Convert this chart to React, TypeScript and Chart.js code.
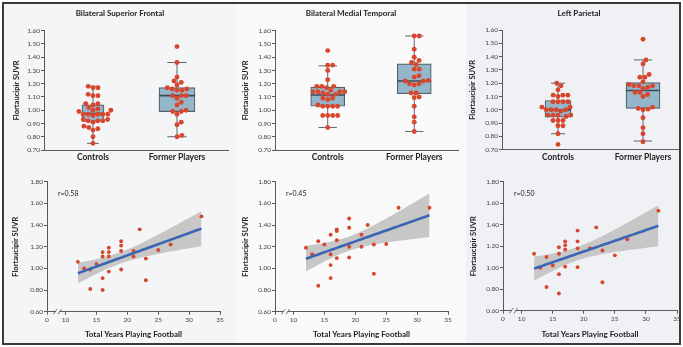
import React, { useEffect, useRef } from 'react';
import { Chart, registerables } from 'chart.js';

Chart.register(...registerables);

const FONT = 'Lato, "Open Sans", "DejaVu Sans", sans-serif';

// ---------------- DATA ----------------
const groupLabels = ['Controls', 'Former Players'];
const regionTitles = ['Bilateral Superior Frontal', 'Bilateral Medial Temporal', 'Left Parietal'];
const correlationLabels = ['r=0.58', 'r=0.45', 'r=0.50'];
const yAxisTitle = 'Flortaucipir SUVR';
const xAxisTitle = 'Total Years Playing Football';
const boxSuvrTicks = [0.7, 0.8, 0.9, 1.0, 1.1, 1.2, 1.3, 1.4, 1.5, 1.6];
const scatterSuvrTicks = [0.6, 0.8, 1.0, 1.2, 1.4, 1.6, 1.8];
const yearTicks = [0, 10, 15, 20, 25, 30, 35];

const yearsPlayed = [12, 13, 14, 14, 15, 16, 16, 16, 16, 17, 17, 17, 17, 19, 19, 19, 19, 21, 21, 22, 23, 23, 25, 27, 32];

const frontalControls = [1.18, 1.17, 1.17, 1.12, 1.11, 1.11, 1.05, 1.05, 1.04, 1.02, 1.01, 1.0, 1.0, 0.99, 0.97, 0.97, 0.97, 0.97, 0.97, 0.96, 0.93, 0.93, 0.92, 0.92, 0.92, 0.91, 0.88, 0.87, 0.86, 0.85, 0.8, 0.75];
const frontalPlayers = [1.06, 1.0, 0.99, 0.81, 1.04, 1.15, 1.11, 0.91, 0.8, 1.19, 1.15, 1.11, 0.97, 1.25, 1.21, 1.16, 0.99, 1.16, 1.11, 1.36, 1.09, 0.89, 1.17, 1.22, 1.48];
const temporalControls = [1.45, 1.34, 1.34, 1.3, 1.23, 1.18, 1.18, 1.18, 1.17, 1.15, 1.14, 1.14, 1.14, 1.14, 1.13, 1.12, 1.12, 1.09, 1.09, 1.08, 1.04, 1.03, 1.03, 1.03, 1.03, 0.96, 0.96, 0.96, 0.96, 0.87];
const temporalPlayers = [1.19, 1.13, 1.25, 0.84, 1.22, 1.31, 1.13, 1.03, 0.91, 1.36, 1.345, 1.26, 1.095, 1.46, 1.375, 1.2, 1.1, 1.31, 1.2, 1.4, 1.22, 0.95, 1.225, 1.56, 1.56];
const parietalControls = [1.2, 1.18, 1.15, 1.11, 1.11, 1.11, 1.1, 1.06, 1.06, 1.06, 1.06, 1.02, 1.02, 1.0, 1.0, 1.0, 1.0, 0.99, 0.96, 0.96, 0.96, 0.96, 0.95, 0.92, 0.92, 0.92, 0.88, 0.88, 0.82, 0.74];
const parietalPlayers = [1.13, 1.0, 1.1, 0.82, 1.02, 1.19, 1.13, 0.94, 0.76, 1.245, 1.21, 1.17, 1.01, 1.345, 1.245, 1.18, 1.005, 1.18, 1.18, 1.375, 1.16, 0.865, 1.115, 1.265, 1.53];

// box summaries: lower whisker, Q1, median, Q3, upper whisker
const frontalControlsBox = [0.75, 0.915, 0.975, 1.04, 1.18];
const frontalPlayersBox = [0.8, 0.99, 1.11, 1.17, 1.36];
const temporalControlsBox = [0.87, 1.03, 1.115, 1.175, 1.335];
const temporalPlayersBox = [0.84, 1.125, 1.22, 1.35, 1.56];
const parietalControlsBox = [0.82, 0.945, 1.0, 1.07, 1.2];
const parietalPlayersBox = [0.765, 1.01, 1.145, 1.205, 1.375];

const controlsByRegion = [frontalControls, temporalControls, parietalControls];
const playersByRegion = [frontalPlayers, temporalPlayers, parietalPlayers];
const controlsBoxByRegion = [frontalControlsBox, temporalControlsBox, parietalControlsBox];
const playersBoxByRegion = [frontalPlayersBox, temporalPlayersBox, parietalPlayersBox];

// ---------------- LAYOUT / STYLE ----------------
const COL_BG = ['#f4f5f7', '#f9f9fa', '#eff1f4'];
const AXIS = '#5a5a5a';
const TICK = '#444';
const TEXT = '#222';
const DOT = '#d8462d';
const BOX_FILL = '#94b6ca';
const BOX_LINE = '#55606a';
const BREAK_START = 7; // where the "0" tick sits on the broken year axis
const BREAK_MARK = 8.7;

const topGeo = [
  { x: 4, y: 4, w: 228, h: 166, left: 44, right: 228, top: 30.7, bottom: 150, yTitleX: 17, titleX: 120, titleY: 13, cats: [93, 177], boxW: [22, 36], bg: COL_BG[0] },
  { x: 236, y: 4, w: 226, h: 166, left: 275, right: 459, top: 30.7, bottom: 150, yTitleX: 246, titleX: 351, titleY: 13, cats: [328, 415], boxW: [34, 34], bg: COL_BG[1] },
  { x: 466, y: 4, w: 217, h: 166, left: 502, right: 678, top: 30, bottom: 149.7, yTitleX: 473, titleX: 579, titleY: 13, cats: [558, 643], boxW: [26, 34], bg: COL_BG[2] },
];
const bottomGeo = [
  { x: 4, y: 170, w: 228, h: 173, left: 47, right: 220, top: 181.7, bottom: 311.7, yTitleX: 16, xTitleY: 334, bg: COL_BG[0] },
  { x: 236, y: 170, w: 226, h: 173, left: 275, right: 448, top: 181.7, bottom: 311.7, yTitleX: 246, xTitleY: 334, bg: COL_BG[1] },
  { x: 466, y: 170, w: 217, h: 173, left: 503, right: 677, top: 181.7, bottom: 310.7, yTitleX: 474, xTitleY: 334, bg: COL_BG[2] },
];

// beeswarm offsets (in x-axis units) so dots of equal value sit side by side
function swarmOffsets(values: number[], dotPx: number, xPxPerUnit: number, yPxPerUnit: number) {
  const order = values.map((_, i) => i).sort((a, b) => values[a] - values[b]);
  const placed: { x: number; y: number }[] = [];
  const offs = new Array(values.length).fill(0);
  for (const i of order) {
    const y = values[i] * yPxPerUnit;
    const cands = [0];
    for (const p of placed) {
      const dy = y - p.y;
      if (Math.abs(dy) < dotPx) {
        const dx = Math.sqrt(dotPx * dotPx - dy * dy);
        cands.push(p.x + dx, p.x - dx);
      }
    }
    cands.sort((a, b) => Math.abs(a) - Math.abs(b));
    let best = 0;
    for (const c of cands) {
      if (placed.every((p) => (p.x - c) ** 2 + (p.y - y) ** 2 >= dotPx * dotPx - 1e-6)) {
        best = c;
        break;
      }
    }
    placed.push({ x: best, y });
    offs[i] = best / xPxPerUnit;
  }
  return offs;
}

function regressionBand(xs: number[], ys: number[]) {
  const n = xs.length;
  const mx = xs.reduce((a, b) => a + b, 0) / n;
  const my = ys.reduce((a, b) => a + b, 0) / n;
  let sxx = 0, sxy = 0;
  for (let i = 0; i < n; i++) {
    sxx += (xs[i] - mx) ** 2;
    sxy += (xs[i] - mx) * (ys[i] - my);
  }
  const b = sxy / sxx;
  const a = my - b * mx;
  let sse = 0;
  for (let i = 0; i < n; i++) sse += (ys[i] - a - b * xs[i]) ** 2;
  const s = Math.sqrt(sse / (n - 2));
  const t = 1.96 + 2.4 / (n - 2);
  const xmin = Math.min(...xs), xmax = Math.max(...xs);
  const fit: any[] = [], lo: any[] = [], hi: any[] = [];
  const steps = 40;
  for (let k = 0; k <= steps; k++) {
    const x = xmin + ((xmax - xmin) * k) / steps;
    const yh = a + b * x;
    const se = s * Math.sqrt(1 / n + (x - mx) ** 2 / sxx);
    fit.push({ x, y: yh });
    lo.push({ x, y: yh - t * se });
    hi.push({ x, y: yh + t * se });
  }
  return { fit, lo, hi };
}

const boxPlugin = {
  id: 'boxWhiskers',
  beforeDatasetsDraw(chart: any) {
    const { ctx, scales } = chart;
    const xS = scales.x, yS = scales.y;
    chart.data.datasets.forEach((ds: any) => {
      if (!ds.stats) return;
      const [lo, , , , hi] = ds.stats;
      const cx = xS.getPixelForValue(ds.xPos);
      const cap = ds.barThickness * 0.27;
      const yl = yS.getPixelForValue(lo), yh = yS.getPixelForValue(hi);
      ctx.save();
      ctx.strokeStyle = '#5f676d';
      ctx.lineWidth = 1;
      ctx.beginPath();
      ctx.moveTo(cx, yl); ctx.lineTo(cx, yh);
      ctx.moveTo(cx - cap, yl); ctx.lineTo(cx + cap, yl);
      ctx.moveTo(cx - cap, yh); ctx.lineTo(cx + cap, yh);
      ctx.stroke();
      ctx.restore();
    });
  },
  afterDatasetDraw(chart: any, args: any) {
    const ds = chart.data.datasets[args.index];
    if (!ds.stats) return;
    const { ctx, scales } = chart;
    const cx = scales.x.getPixelForValue(ds.xPos);
    const ym = scales.y.getPixelForValue(ds.stats[2]);
    const hw = ds.barThickness / 2;
    ctx.save();
    ctx.strokeStyle = '#3f4a52';
    ctx.lineWidth = 1.6;
    ctx.beginPath();
    ctx.moveTo(cx - hw, ym); ctx.lineTo(cx + hw, ym);
    ctx.stroke();
    ctx.restore();
  },
};

const scatterDecor = {
  id: 'scatterDecor',
  afterDraw(chart: any, _args: any, opts: any) {
    const { ctx, scales, chartArea } = chart;
    ctx.save();
    // r label
    ctx.fillStyle = TEXT;
    ctx.font = `7px ${FONT}`;
    ctx.textBaseline = 'middle';
    ctx.textAlign = 'left';
    ctx.fillText(opts.label, chartArea.left + 11, chartArea.top + 12);
    // axis break marks
    const px = scales.x.getPixelForValue(BREAK_MARK);
    const py = chartArea.bottom;
    ctx.fillStyle = opts.bg;
    ctx.fillRect(px - 2, py - 1.5, 4, 3);
    ctx.strokeStyle = AXIS;
    ctx.lineWidth = 0.9;
    ctx.beginPath();
    ctx.moveTo(px - 4, py + 2.5); ctx.lineTo(px - 0.5, py - 2.5);
    ctx.moveTo(px + 0.5, py + 2.5); ctx.lineTo(px + 4, py - 2.5);
    ctx.stroke();
    ctx.restore();
  },
};

function boxChartConfig(i: number): any {
  const g = topGeo[i];
  const lhT = 8 * 1.2;
  const lhY = 7.5 * 1.2;
  const padLeft = 2 * (g.titleX - g.x) - (g.right - g.x);
  const padRight = g.x + g.w - g.right;
  const yTitlePad = g.yTitleX - lhY / 2 - (g.x + padLeft);
  const yWidth = g.left - (g.x + padLeft);
  const xHeight = g.y + g.h - g.bottom;
  const unit = g.cats[1] - g.cats[0];
  const xMin = (g.left - g.cats[0]) / unit;
  const xMax = (g.right - g.cats[0]) / unit;
  const yMin = boxSuvrTicks[0], yMax = boxSuvrTicks[boxSuvrTicks.length - 1];
  const yPx = (g.bottom - g.top) / (yMax - yMin);
  const catLh = 8.5 * 1.2;

  const groups = [controlsByRegion[i], playersByRegion[i]];
  const boxes = [controlsBoxByRegion[i], playersBoxByRegion[i]];

  const datasets: any[] = [];
  groups.forEach((vals, k) => {
    datasets.push({
      type: 'bar',
      data: [{ x: k, y: [boxes[k][1], boxes[k][3]] }],
      backgroundColor: BOX_FILL,
      borderColor: BOX_LINE,
      borderWidth: 1.2,
      borderSkipped: false,
      barThickness: g.boxW[k],
      grouped: false,
      stats: boxes[k],
      xPos: k,
      order: 2,
    });
  });
  groups.forEach((vals, k) => {
    const offs = swarmOffsets(vals, 5.0, unit, yPx);
    datasets.push({
      type: 'scatter',
      data: vals.map((v, j) => ({ x: k + offs[j], y: v })),
      backgroundColor: DOT,
      borderWidth: 0,
      pointRadius: 2.45,
      order: 1,
    });
  });

  return {
    type: 'bar',
    data: { datasets },
    plugins: [boxPlugin],
    options: {
      animation: false,
      responsive: false,
      devicePixelRatio: 1,
      events: [],
      layout: { padding: { left: padLeft, right: padRight, top: 0, bottom: 0 } },
      plugins: {
        legend: { display: false },
        tooltip: { enabled: false },
        title: {
          display: true,
          text: regionTitles[i],
          color: TEXT,
          font: { family: FONT, size: 8, weight: 'bold', lineHeight: 1.2 },
          padding: { top: g.titleY - lhT / 2 - g.y, bottom: g.top - (g.titleY + lhT / 2) },
        },
      },
      scales: {
        x: {
          type: 'linear',
          min: xMin,
          max: xMax,
          offset: false,
          afterBuildTicks: (s: any) => { s.ticks = groupLabels.map((_, k) => ({ value: k })); },
          afterFit: (s: any) => { s.height = xHeight; },
          grid: { display: false, drawTicks: false, offset: false },
          border: { display: true, color: AXIS, width: 1 },
          ticks: {
            callback: (_v: any, idx: number) => groupLabels[idx],
            font: { family: FONT, size: 8.5, weight: 'bold', lineHeight: 1.2 },
            color: TEXT,
            padding: 157 - catLh / 2 - g.bottom,
            maxRotation: 0,
            autoSkip: false,
          },
        },
        y: {
          type: 'linear',
          min: yMin,
          max: yMax,
          beginAtZero: false,
          afterBuildTicks: (s: any) => { s.ticks = boxSuvrTicks.map((v) => ({ value: v })); },
          afterFit: (s: any) => { s.width = yWidth; },
          grid: { display: true, drawOnChartArea: false, drawTicks: true, tickLength: 3, color: AXIS, lineWidth: 1 },
          border: { display: true, color: AXIS, width: 1 },
          ticks: {
            callback: (v: any) => Number(v).toFixed(2),
            font: { family: FONT, size: 6.5 },
            color: TICK,
            padding: 1,
          },
          title: {
            display: true,
            text: yAxisTitle,
            color: TEXT,
            font: { family: FONT, size: 7.5, weight: 'bold', lineHeight: 1.2 },
            padding: { top: yTitlePad, bottom: 0 },
          },
        },
      },
    },
  };
}

function scatterChartConfig(i: number): any {
  const g = bottomGeo[i];
  const lhY = 7.5 * 1.2;
  const lhX = 8 * 1.2;
  const padLeft = g.yTitleX - lhY / 2 - g.x;
  const padRight = g.x + g.w - g.right;
  const yWidth = g.left - (g.x + padLeft);
  const xHeight = g.y + g.h - g.bottom;
  const ys = playersByRegion[i];
  const band = regressionBand(yearsPlayed, ys);

  return {
    type: 'scatter',
    data: {
      datasets: [
        { type: 'line', data: band.lo, borderWidth: 0, pointRadius: 0, fill: false, order: 4 },
        { type: 'line', data: band.hi, borderWidth: 0, pointRadius: 0, fill: '-1', backgroundColor: '#c7c7c7', order: 4 },
        { type: 'scatter', data: yearsPlayed.map((x, j) => ({ x, y: ys[j] })), backgroundColor: DOT, borderWidth: 0, pointRadius: 1.95, order: 3 },
        { type: 'line', data: band.fit, borderColor: '#3a65b3', borderWidth: 2.6, pointRadius: 0, fill: false, order: 2 },
      ],
    },
    plugins: [scatterDecor],
    options: {
      animation: false,
      responsive: false,
      devicePixelRatio: 1,
      events: [],
      layout: { padding: { left: padLeft, right: padRight, top: g.top - g.y, bottom: 0 } },
      plugins: {
        legend: { display: false },
        tooltip: { enabled: false },
        scatterDecor: { label: correlationLabels[i], bg: g.bg },
      },
      scales: {
        x: {
          type: 'linear',
          min: BREAK_START,
          max: yearTicks[yearTicks.length - 1],
          afterBuildTicks: (s: any) => { s.ticks = yearTicks.map((v) => ({ value: v === 0 ? BREAK_START : v })); },
          afterFit: (s: any) => { s.height = xHeight; },
          grid: { display: true, drawOnChartArea: false, drawTicks: true, tickLength: 3, color: AXIS, lineWidth: 1 },
          border: { display: true, color: AXIS, width: 1 },
          ticks: {
            callback: (_v: any, idx: number) => String(yearTicks[idx]),
            font: { family: FONT, size: 6.5, lineHeight: 1.2 },
            color: TICK,
            padding: 1.5,
            maxRotation: 0,
            autoSkip: false,
          },
          title: {
            display: true,
            text: xAxisTitle,
            color: TEXT,
            font: { family: FONT, size: 8, weight: 'bold', lineHeight: 1.2 },
            padding: { top: 0, bottom: g.y + g.h - g.xTitleY - lhX / 2 },
          },
        },
        y: {
          type: 'linear',
          min: scatterSuvrTicks[0],
          max: scatterSuvrTicks[scatterSuvrTicks.length - 1],
          afterBuildTicks: (s: any) => { s.ticks = scatterSuvrTicks.map((v) => ({ value: v })); },
          afterFit: (s: any) => { s.width = yWidth; },
          grid: { display: true, drawOnChartArea: false, drawTicks: true, tickLength: 3, color: AXIS, lineWidth: 1 },
          border: { display: true, color: AXIS, width: 1 },
          ticks: {
            callback: (v: any) => Number(v).toFixed(2),
            font: { family: FONT, size: 6.5 },
            color: TICK,
            padding: 1,
          },
          title: {
            display: true,
            text: yAxisTitle,
            color: TEXT,
            font: { family: FONT, size: 7.5, weight: 'bold', lineHeight: 1.2 },
            padding: { top: 0, bottom: 0 },
          },
        },
      },
    },
  };
}

function ChartCanvas({ geo, build }: { geo: any; build: () => any }) {
  const ref = useRef<HTMLCanvasElement | null>(null);
  useEffect(() => {
    if (!ref.current) return;
    const chart = new Chart(ref.current, build());
    return () => chart.destroy();
  }, []);
  return (
    <canvas
      ref={ref}
      width={geo.w}
      height={geo.h}
      style={{ position: 'absolute', left: geo.x, top: geo.y, width: geo.w, height: geo.h }}
    />
  );
}

export default function App() {
  return (
    <div style={{ position: 'absolute', left: 0, top: 0, width: 683, height: 347, background: '#ffffff', overflow: 'hidden' }}>
      <div style={{ position: 'absolute', left: 3, top: 3, width: 233, height: 341, background: COL_BG[0] }} />
      <div style={{ position: 'absolute', left: 236, top: 3, width: 230, height: 341, background: COL_BG[1] }} />
      <div style={{ position: 'absolute', left: 466, top: 3, width: 215, height: 341, background: COL_BG[2] }} />
      {topGeo.map((g, i) => (
        <ChartCanvas key={'box' + i} geo={g} build={() => boxChartConfig(i)} />
      ))}
      {bottomGeo.map((g, i) => (
        <ChartCanvas key={'sc' + i} geo={g} build={() => scatterChartConfig(i)} />
      ))}
      <div
        style={{
          position: 'absolute', left: 2, top: 2, width: 679, height: 343,
          border: '2px solid #3a3a3a', boxSizing: 'border-box', pointerEvents: 'none',
        }}
      />
    </div>
  );
}
